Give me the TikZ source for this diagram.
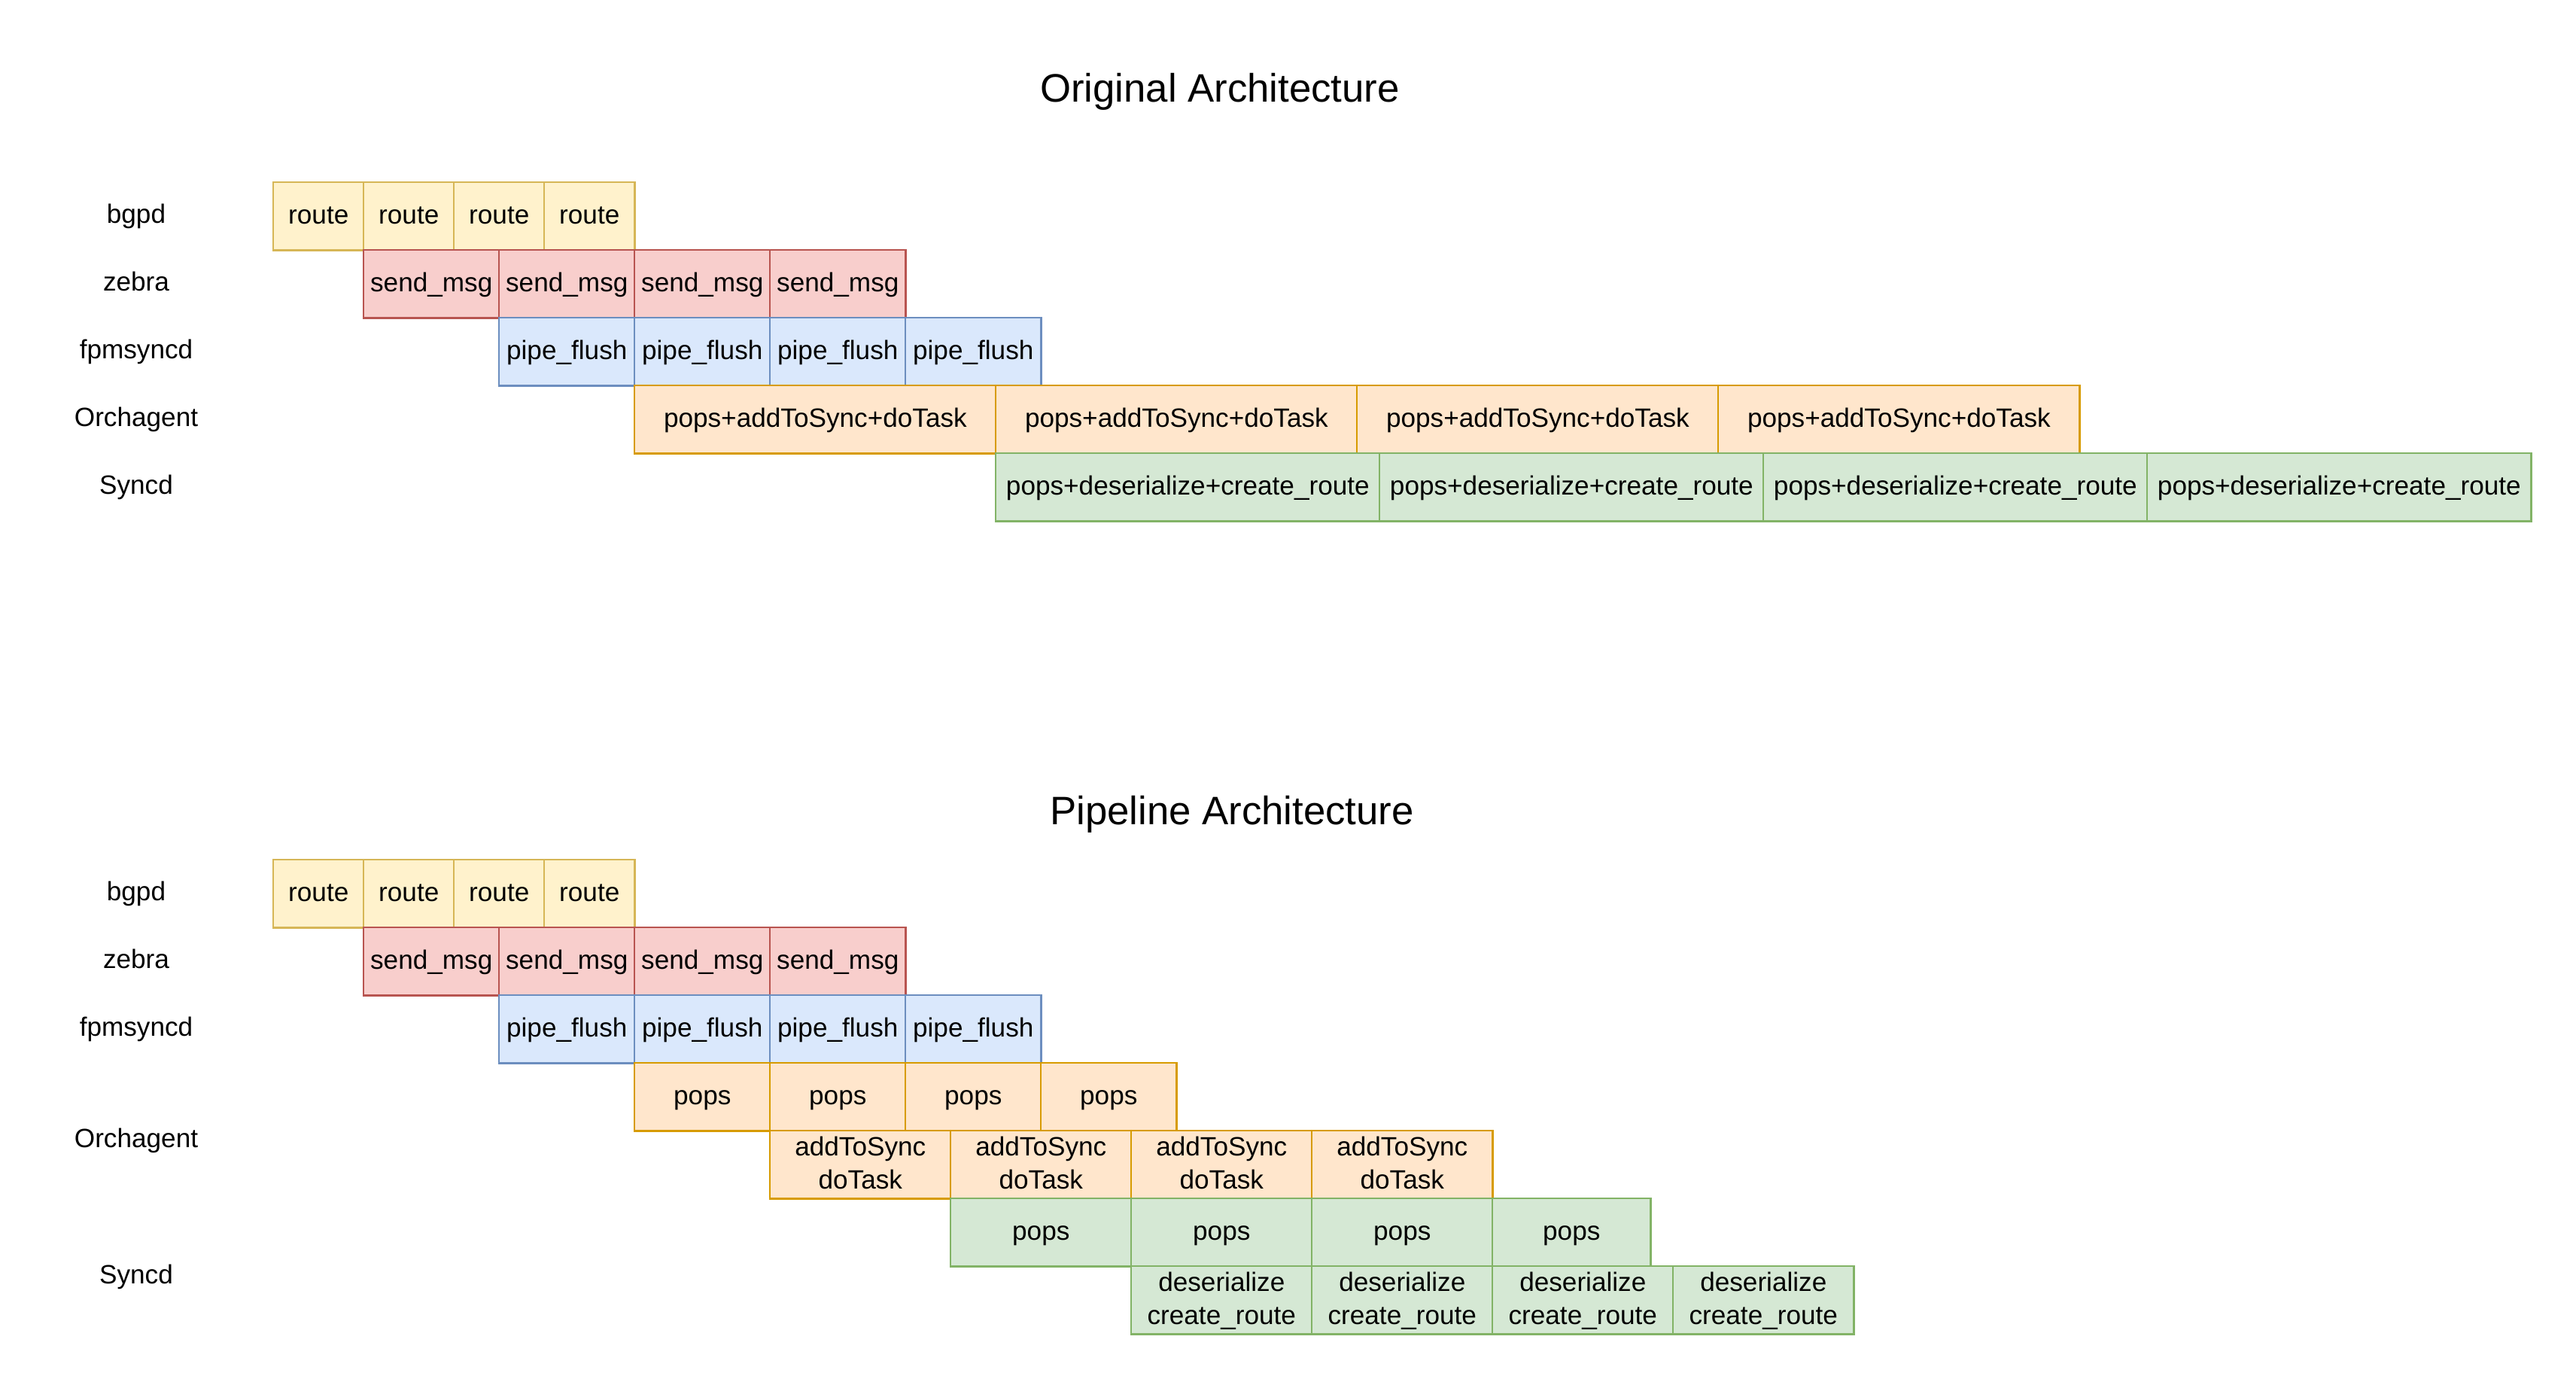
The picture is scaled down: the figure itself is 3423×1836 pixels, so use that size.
\documentclass[tikz,border=0pt]{standalone}
\usepackage{fontspec}
\setmainfont{Liberation Sans}
\usepackage{xcolor}
\usepackage{tikz}
\definecolor{routefill}{HTML}{FFF2CC}
\definecolor{routeline}{HTML}{D6B656}
\definecolor{msgfill}{HTML}{F8CECC}
\definecolor{msgline}{HTML}{B85450}
\definecolor{flushfill}{HTML}{DAE8FC}
\definecolor{flushline}{HTML}{6C8EBF}
\definecolor{orchfill}{HTML}{FFE6CC}
\definecolor{orchline}{HTML}{D79B00}
\definecolor{syncfill}{HTML}{D5E8D4}
\definecolor{syncline}{HTML}{82B366}
\newcommand{\cellup}{\rule{0pt}{0.8em}}
\newcommand{\celldown}{\rule[-0.2em]{0pt}{0.2em}}

\begin{document}
\begin{tikzpicture}[x=0.01cm, y=-0.01cm,
  cell/.style={draw, line width=0.7pt, anchor=north west, inner sep=1pt, minimum height=0.9cm,
    font=\fontsize{10}{12.5}\selectfont, text height=0.8em, text depth=0.2em},
  tallcell/.style={draw, line width=0.7pt, anchor=north west, inner sep=1pt, minimum height=0.9cm,
    font=\fontsize{10}{12.5}\selectfont, align=center},
  lane/.style={font=\fontsize{10}{12.5}\selectfont, text height=0.8em, text depth=0.2em, inner sep=1pt},
  heading/.style={font=\fontsize{15}{18}\selectfont, text height=0.8em, text depth=0.2em, inner sep=1pt},
  route/.style={fill=routefill, draw=routeline, minimum width=1.2cm},
  msg/.style={fill=msgfill, draw=msgline, minimum width=1.8cm},
  flush/.style={fill=flushfill, draw=flushline, minimum width=1.8cm},
  orch/.style={fill=orchfill, draw=orchline},
  sync/.style={fill=syncfill, draw=syncline}]
  \useasboundingbox (0,0) rectangle (3423,1836);

  % original architecture
  \node[heading] (otitle) at (1621,125) {Original Architecture};
  \node[lane] (olbgpd) at (181,286) {bgpd};
  \node[lane] (olzebra) at (181,376) {zebra};
  \node[lane] (olfpm) at (181,466) {fpmsyncd};
  \node[lane] (olorch) at (181,556) {Orchagent};
  \node[lane] (olsync) at (181,646) {Syncd};
  \node[cell, route] (ob1) at (362,241) {route};
  \node[cell, route] (ob2) at (482,241) {route};
  \node[cell, route] (ob3) at (602,241) {route};
  \node[cell, route] (ob4) at (722,241) {route};
  \node[cell, msg] (oz1) at (482,331) {send\_msg};
  \node[cell, msg] (oz2) at (662,331) {send\_msg};
  \node[cell, msg] (oz3) at (842,331) {send\_msg};
  \node[cell, msg] (oz4) at (1022,331) {send\_msg};
  \node[cell, flush] (of1) at (662,421) {pipe\_flush};
  \node[cell, flush] (of2) at (842,421) {pipe\_flush};
  \node[cell, flush] (of3) at (1022,421) {pipe\_flush};
  \node[cell, flush] (of4) at (1202,421) {pipe\_flush};
  \node[cell, orch, minimum width=4.8cm] (oo1) at (842,511) {pops+addToSync+doTask};
  \node[cell, orch, minimum width=4.8cm] (oo2) at (1322,511) {pops+addToSync+doTask};
  \node[cell, orch, minimum width=4.8cm] (oo3) at (1802,511) {pops+addToSync+doTask};
  \node[cell, orch, minimum width=4.8cm] (oo4) at (2282,511) {pops+addToSync+doTask};
  \node[cell, sync, minimum width=5.1cm] (os1) at (1322,601) {pops+deserialize+create\_route};
  \node[cell, sync, minimum width=5.1cm] (os2) at (1832,601) {pops+deserialize+create\_route};
  \node[cell, sync, minimum width=5.1cm] (os3) at (2342,601) {pops+deserialize+create\_route};
  \node[cell, sync, minimum width=5.1cm] (os4) at (2852,601) {pops+deserialize+create\_route};

  % pipeline architecture
  \node[heading] (ptitle) at (1637,1085) {Pipeline Architecture};
  \node[lane] (plbgpd) at (181,1186) {bgpd};
  \node[lane] (plzebra) at (181,1276) {zebra};
  \node[lane] (plfpm) at (181,1366) {fpmsyncd};
  \node[lane] (plorch) at (181,1514) {Orchagent};
  \node[lane] (plsync) at (181,1695) {Syncd};
  \node[cell, route] (pb1) at (362,1141) {route};
  \node[cell, route] (pb2) at (482,1141) {route};
  \node[cell, route] (pb3) at (602,1141) {route};
  \node[cell, route] (pb4) at (722,1141) {route};
  \node[cell, msg] (pz1) at (482,1231) {send\_msg};
  \node[cell, msg] (pz2) at (662,1231) {send\_msg};
  \node[cell, msg] (pz3) at (842,1231) {send\_msg};
  \node[cell, msg] (pz4) at (1022,1231) {send\_msg};
  \node[cell, flush] (pf1) at (662,1321) {pipe\_flush};
  \node[cell, flush] (pf2) at (842,1321) {pipe\_flush};
  \node[cell, flush] (pf3) at (1022,1321) {pipe\_flush};
  \node[cell, flush] (pf4) at (1202,1321) {pipe\_flush};
  \node[cell, orch, minimum width=1.8cm] (pp1) at (842,1411) {pops};
  \node[cell, orch, minimum width=1.8cm] (pp2) at (1022,1411) {pops};
  \node[cell, orch, minimum width=1.8cm] (pp3) at (1202,1411) {pops};
  \node[cell, orch, minimum width=1.8cm] (pp4) at (1382,1411) {pops};
  \node[tallcell, orch, minimum width=2.4cm] (pa1) at (1022,1501) {\cellup addToSync\\doTask\celldown};
  \node[tallcell, orch, minimum width=2.4cm] (pa2) at (1262,1501) {\cellup addToSync\\doTask\celldown};
  \node[tallcell, orch, minimum width=2.4cm] (pa3) at (1502,1501) {\cellup addToSync\\doTask\celldown};
  \node[tallcell, orch, minimum width=2.4cm] (pa4) at (1742,1501) {\cellup addToSync\\doTask\celldown};
  \node[cell, sync, minimum width=2.4cm] (pq1) at (1262,1591) {pops};
  \node[cell, sync, minimum width=2.4cm] (pq2) at (1502,1591) {pops};
  \node[cell, sync, minimum width=2.4cm] (pq3) at (1742,1591) {pops};
  \node[cell, sync, minimum width=2.1cm] (pq4) at (1982,1591) {pops};
  \node[tallcell, sync, minimum width=2.4cm] (pd1) at (1502,1681) {\cellup deserialize\\create\_route\celldown};
  \node[tallcell, sync, minimum width=2.4cm] (pd2) at (1742,1681) {\cellup deserialize\\create\_route\celldown};
  \node[tallcell, sync, minimum width=2.4cm] (pd3) at (1982,1681) {\cellup deserialize\\create\_route\celldown};
  \node[tallcell, sync, minimum width=2.4cm] (pd4) at (2222,1681) {\cellup deserialize\\create\_route\celldown};
\end{tikzpicture}
\end{document}
